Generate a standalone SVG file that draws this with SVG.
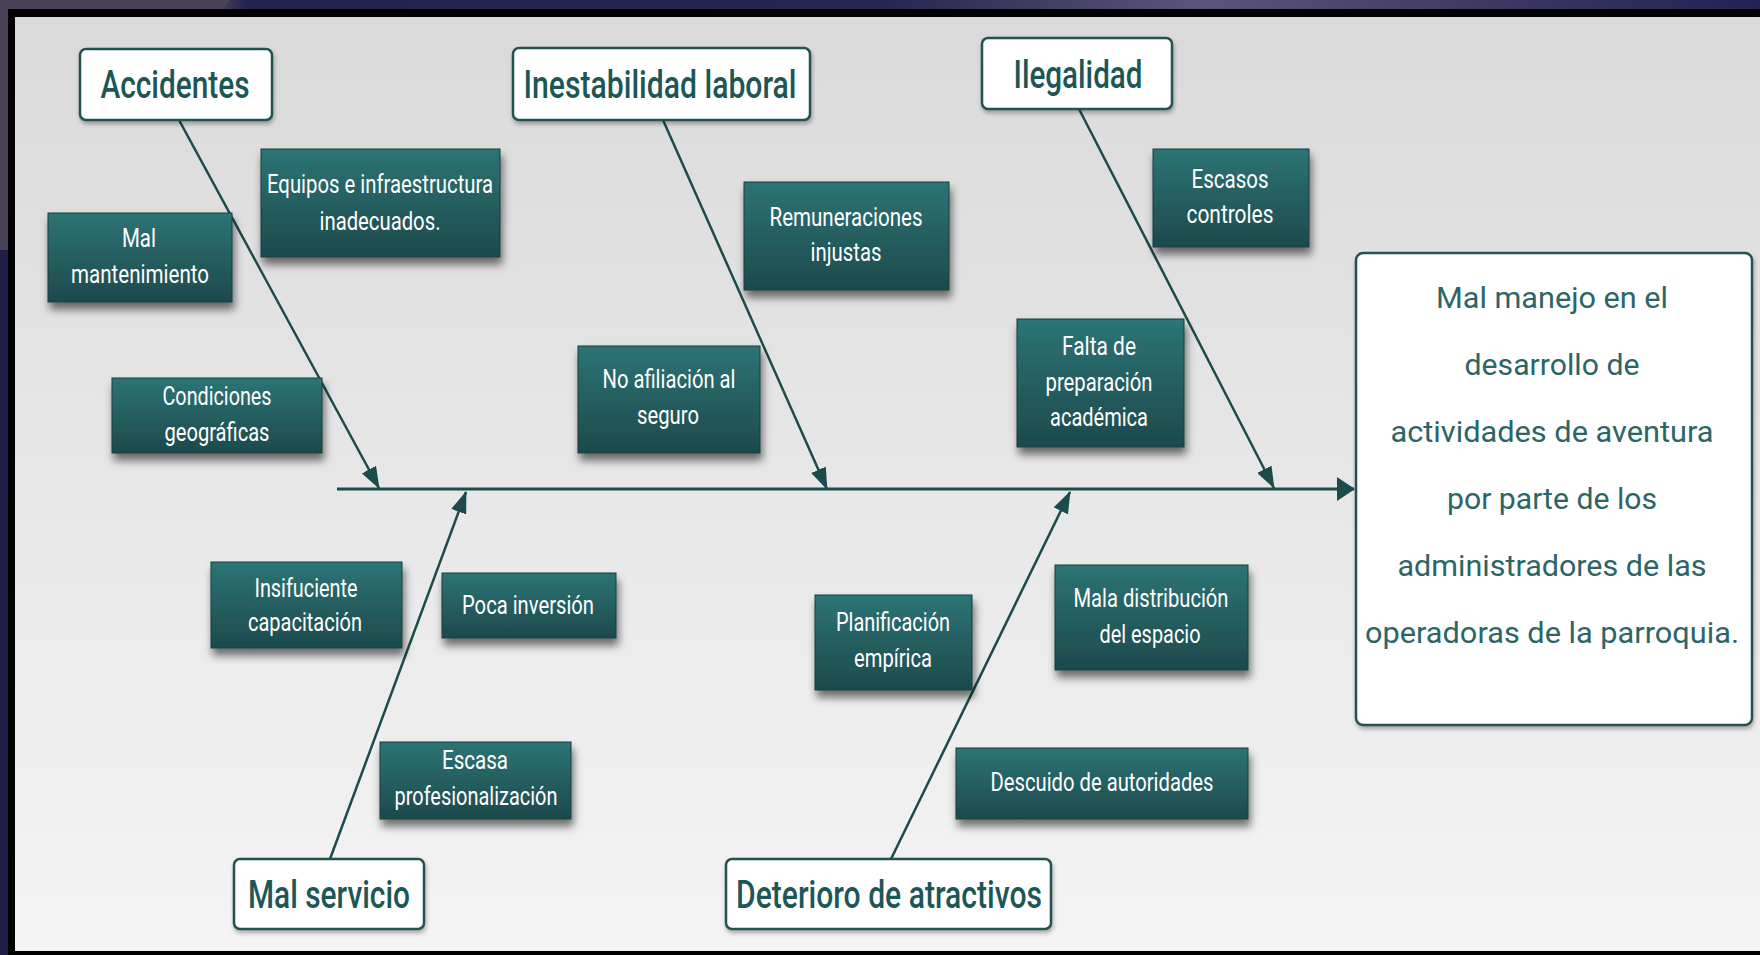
<svg xmlns="http://www.w3.org/2000/svg" width="1760" height="955" viewBox="0 0 1760 955">
<defs>
<linearGradient id="topband" x1="0" y1="0" x2="1" y2="0">
<stop offset="0" stop-color="#4a4257"/><stop offset="0.125" stop-color="#4a4257"/><stop offset="0.14" stop-color="#23224f"/><stop offset="0.5" stop-color="#26254f"/><stop offset="0.68" stop-color="#5a557a"/><stop offset="0.85" stop-color="#3c3862"/><stop offset="1" stop-color="#222150"/>
</linearGradient>
<linearGradient id="panel" x1="0" y1="0" x2="0" y2="1">
<stop offset="0" stop-color="#dadada"/><stop offset="1" stop-color="#f4f4f4"/>
</linearGradient>
<linearGradient id="teal" x1="0" y1="0" x2="0" y2="1">
<stop offset="0" stop-color="#2d7475"/><stop offset="1" stop-color="#1d494c"/>
</linearGradient>
<filter id="shadow" x="-20%" y="-20%" width="140%" height="160%">
<feDropShadow dx="2" dy="7" stdDeviation="4" flood-color="#000" flood-opacity="0.55"/>
</filter>
<filter id="shadow2" x="-10%" y="-10%" width="120%" height="130%">
<feDropShadow dx="1" dy="3" stdDeviation="2" flood-color="#000" flood-opacity="0.3"/>
</filter>
<marker id="arrow" viewBox="0 0 22 16" refX="21" refY="8" markerWidth="22" markerHeight="16" markerUnits="userSpaceOnUse" orient="auto">
<path d="M0,0 L22,8 L0,16 z" fill="#1d4a4a"/>
</marker>
<marker id="arrowBig" viewBox="0 0 18 24" refX="17" refY="12" markerWidth="18" markerHeight="24" markerUnits="userSpaceOnUse" orient="auto">
<path d="M0,0 L18,12 L0,24 z" fill="#1d4a4a"/>
</marker>
<style>
.cause rect{fill:url(#teal);stroke:#1a3d3f;stroke-width:1;filter:url(#shadow)}
.cause text{font-family:Roboto,"Liberation Sans",sans-serif;font-size:25px;fill:#ffffff;text-anchor:middle}
.head rect{fill:#ffffff;stroke:#23524f;stroke-width:2.5;filter:url(#shadow2)}
.head text{font-family:Roboto,"Liberation Sans",sans-serif;font-size:39px;font-weight:500;fill:#1d5656;text-anchor:middle}
.effect rect{fill:#ffffff;stroke:#23524f;stroke-width:2.5;filter:url(#shadow2)}
.effect text{font-family:Roboto,"Liberation Sans",sans-serif;font-size:30px;fill:#2b6565;text-anchor:middle}
.conn path{fill:none;stroke:#1d4a4a;stroke-width:2.5;marker-end:url(#arrow)}
.conn path.spine{stroke-width:3;marker-end:url(#arrowBig)}
</style>
</defs>
<g id="background">
<rect x="0" y="0" width="1760" height="955" fill="#211f47"/>
<rect x="0" y="0" width="1760" height="10" fill="url(#topband)"/>
<polygon points="0,0 230,0 8,250 0,250" fill="#4a4257"/>
<rect x="8" y="9" width="1752" height="946" fill="#000000"/>
<rect x="15" y="17" width="1745" height="934" fill="url(#panel)"/>
</g>
<g id="connectors" class="conn">
<path d="M179,120 L379,488"/>
<path d="M663,120 L827,489"/>
<path d="M1079,109 L1274,488"/>
<path d="M330,859 L466,492"/>
<path d="M891,859 L1070,492"/>
<path class="spine" d="M337,489 L1354,489"/>
</g>
<g id="h-accidentes" class="head"><rect x="80" y="49" width="192" height="71" rx="6"/><text x="175" y="98" textLength="149" lengthAdjust="spacingAndGlyphs">Accidentes</text></g>
<g id="h-inestabilidad" class="head"><rect x="513" y="48" width="297" height="72" rx="6"/><text x="660" y="98" textLength="273" lengthAdjust="spacingAndGlyphs">Inestabilidad laboral</text></g>
<g id="h-ilegalidad" class="head"><rect x="982" y="38" width="190" height="71" rx="6"/><text x="1078" y="88" textLength="129" lengthAdjust="spacingAndGlyphs">Ilegalidad</text></g>
<g id="h-malservicio" class="head"><rect x="234" y="859" width="190" height="70" rx="6"/><text x="329" y="908" textLength="162" lengthAdjust="spacingAndGlyphs">Mal servicio</text></g>
<g id="h-deterioro" class="head"><rect x="726" y="859" width="325" height="70" rx="6"/><text x="889" y="908" textLength="306" lengthAdjust="spacingAndGlyphs">Deterioro de atractivos</text></g>
<g id="effect" class="effect"><rect x="1356" y="253" width="396" height="472" rx="7"/>
<text x="1552" y="308" textLength="232" lengthAdjust="spacingAndGlyphs">Mal manejo en el</text>
<text x="1552" y="375" textLength="175" lengthAdjust="spacingAndGlyphs">desarrollo de</text>
<text x="1552" y="442" textLength="323" lengthAdjust="spacingAndGlyphs">actividades de aventura</text>
<text x="1552" y="509" textLength="210" lengthAdjust="spacingAndGlyphs">por parte de los</text>
<text x="1552" y="576" textLength="309" lengthAdjust="spacingAndGlyphs">administradores de las</text>
<text x="1552" y="643" textLength="374" lengthAdjust="spacingAndGlyphs">operadoras de la parroquia.</text>
</g>
<g id="c-equipos" class="cause"><rect x="261" y="149" width="239" height="108"/><text x="380" y="193" textLength="226" lengthAdjust="spacingAndGlyphs">Equipos e infraestructura</text><text x="380" y="230" textLength="121" lengthAdjust="spacingAndGlyphs">inadecuados.</text></g>
<g id="c-malmantenimiento" class="cause"><rect x="48" y="213" width="184" height="89"/><text x="139" y="247" textLength="34" lengthAdjust="spacingAndGlyphs">Mal</text><text x="140" y="283" textLength="138" lengthAdjust="spacingAndGlyphs">mantenimiento</text></g>
<g id="c-condiciones" class="cause"><rect x="112" y="378" width="210" height="75"/><text x="217" y="405" textLength="109" lengthAdjust="spacingAndGlyphs">Condiciones</text><text x="217" y="441" textLength="105" lengthAdjust="spacingAndGlyphs">geográficas</text></g>
<g id="c-remuneraciones" class="cause"><rect x="744" y="182" width="205" height="108"/><text x="846" y="226" textLength="153" lengthAdjust="spacingAndGlyphs">Remuneraciones</text><text x="846" y="261" textLength="71" lengthAdjust="spacingAndGlyphs">injustas</text></g>
<g id="c-noafiliacion" class="cause"><rect x="578" y="346" width="182" height="107"/><text x="669" y="388" textLength="133" lengthAdjust="spacingAndGlyphs">No afiliación al</text><text x="668" y="424" textLength="62" lengthAdjust="spacingAndGlyphs">seguro</text></g>
<g id="c-escasos" class="cause"><rect x="1153" y="149" width="156" height="98"/><text x="1230" y="188" textLength="77" lengthAdjust="spacingAndGlyphs">Escasos</text><text x="1230" y="223" textLength="87" lengthAdjust="spacingAndGlyphs">controles</text></g>
<g id="c-falta" class="cause"><rect x="1017" y="319" width="167" height="128"/><text x="1099" y="355" textLength="74" lengthAdjust="spacingAndGlyphs">Falta de</text><text x="1099" y="391" textLength="107" lengthAdjust="spacingAndGlyphs">preparación</text><text x="1099" y="426" textLength="98" lengthAdjust="spacingAndGlyphs">académica</text></g>
<g id="c-insifuciente" class="cause"><rect x="211" y="562" width="191" height="86"/><text x="306" y="597" textLength="103" lengthAdjust="spacingAndGlyphs">Insifuciente</text><text x="305" y="631" textLength="114" lengthAdjust="spacingAndGlyphs">capacitación</text></g>
<g id="c-poca" class="cause"><rect x="442" y="573" width="174" height="65"/><text x="528" y="614" textLength="132" lengthAdjust="spacingAndGlyphs">Poca inversión</text></g>
<g id="c-escasa" class="cause"><rect x="380" y="742" width="191" height="77"/><text x="475" y="769" textLength="66" lengthAdjust="spacingAndGlyphs">Escasa</text><text x="476" y="805" textLength="163" lengthAdjust="spacingAndGlyphs">profesionalización</text></g>
<g id="c-planificacion" class="cause"><rect x="815" y="595" width="157" height="95"/><text x="893" y="631" textLength="114" lengthAdjust="spacingAndGlyphs">Planificación</text><text x="893" y="667" textLength="78" lengthAdjust="spacingAndGlyphs">empírica</text></g>
<g id="c-mala" class="cause"><rect x="1055" y="565" width="193" height="105"/><text x="1151" y="607" textLength="155" lengthAdjust="spacingAndGlyphs">Mala distribución</text><text x="1150" y="643" textLength="101" lengthAdjust="spacingAndGlyphs">del espacio</text></g>
<g id="c-descuido" class="cause"><rect x="956" y="748" width="292" height="71"/><text x="1102" y="791" textLength="223" lengthAdjust="spacingAndGlyphs">Descuido de autoridades</text></g>
</svg>
